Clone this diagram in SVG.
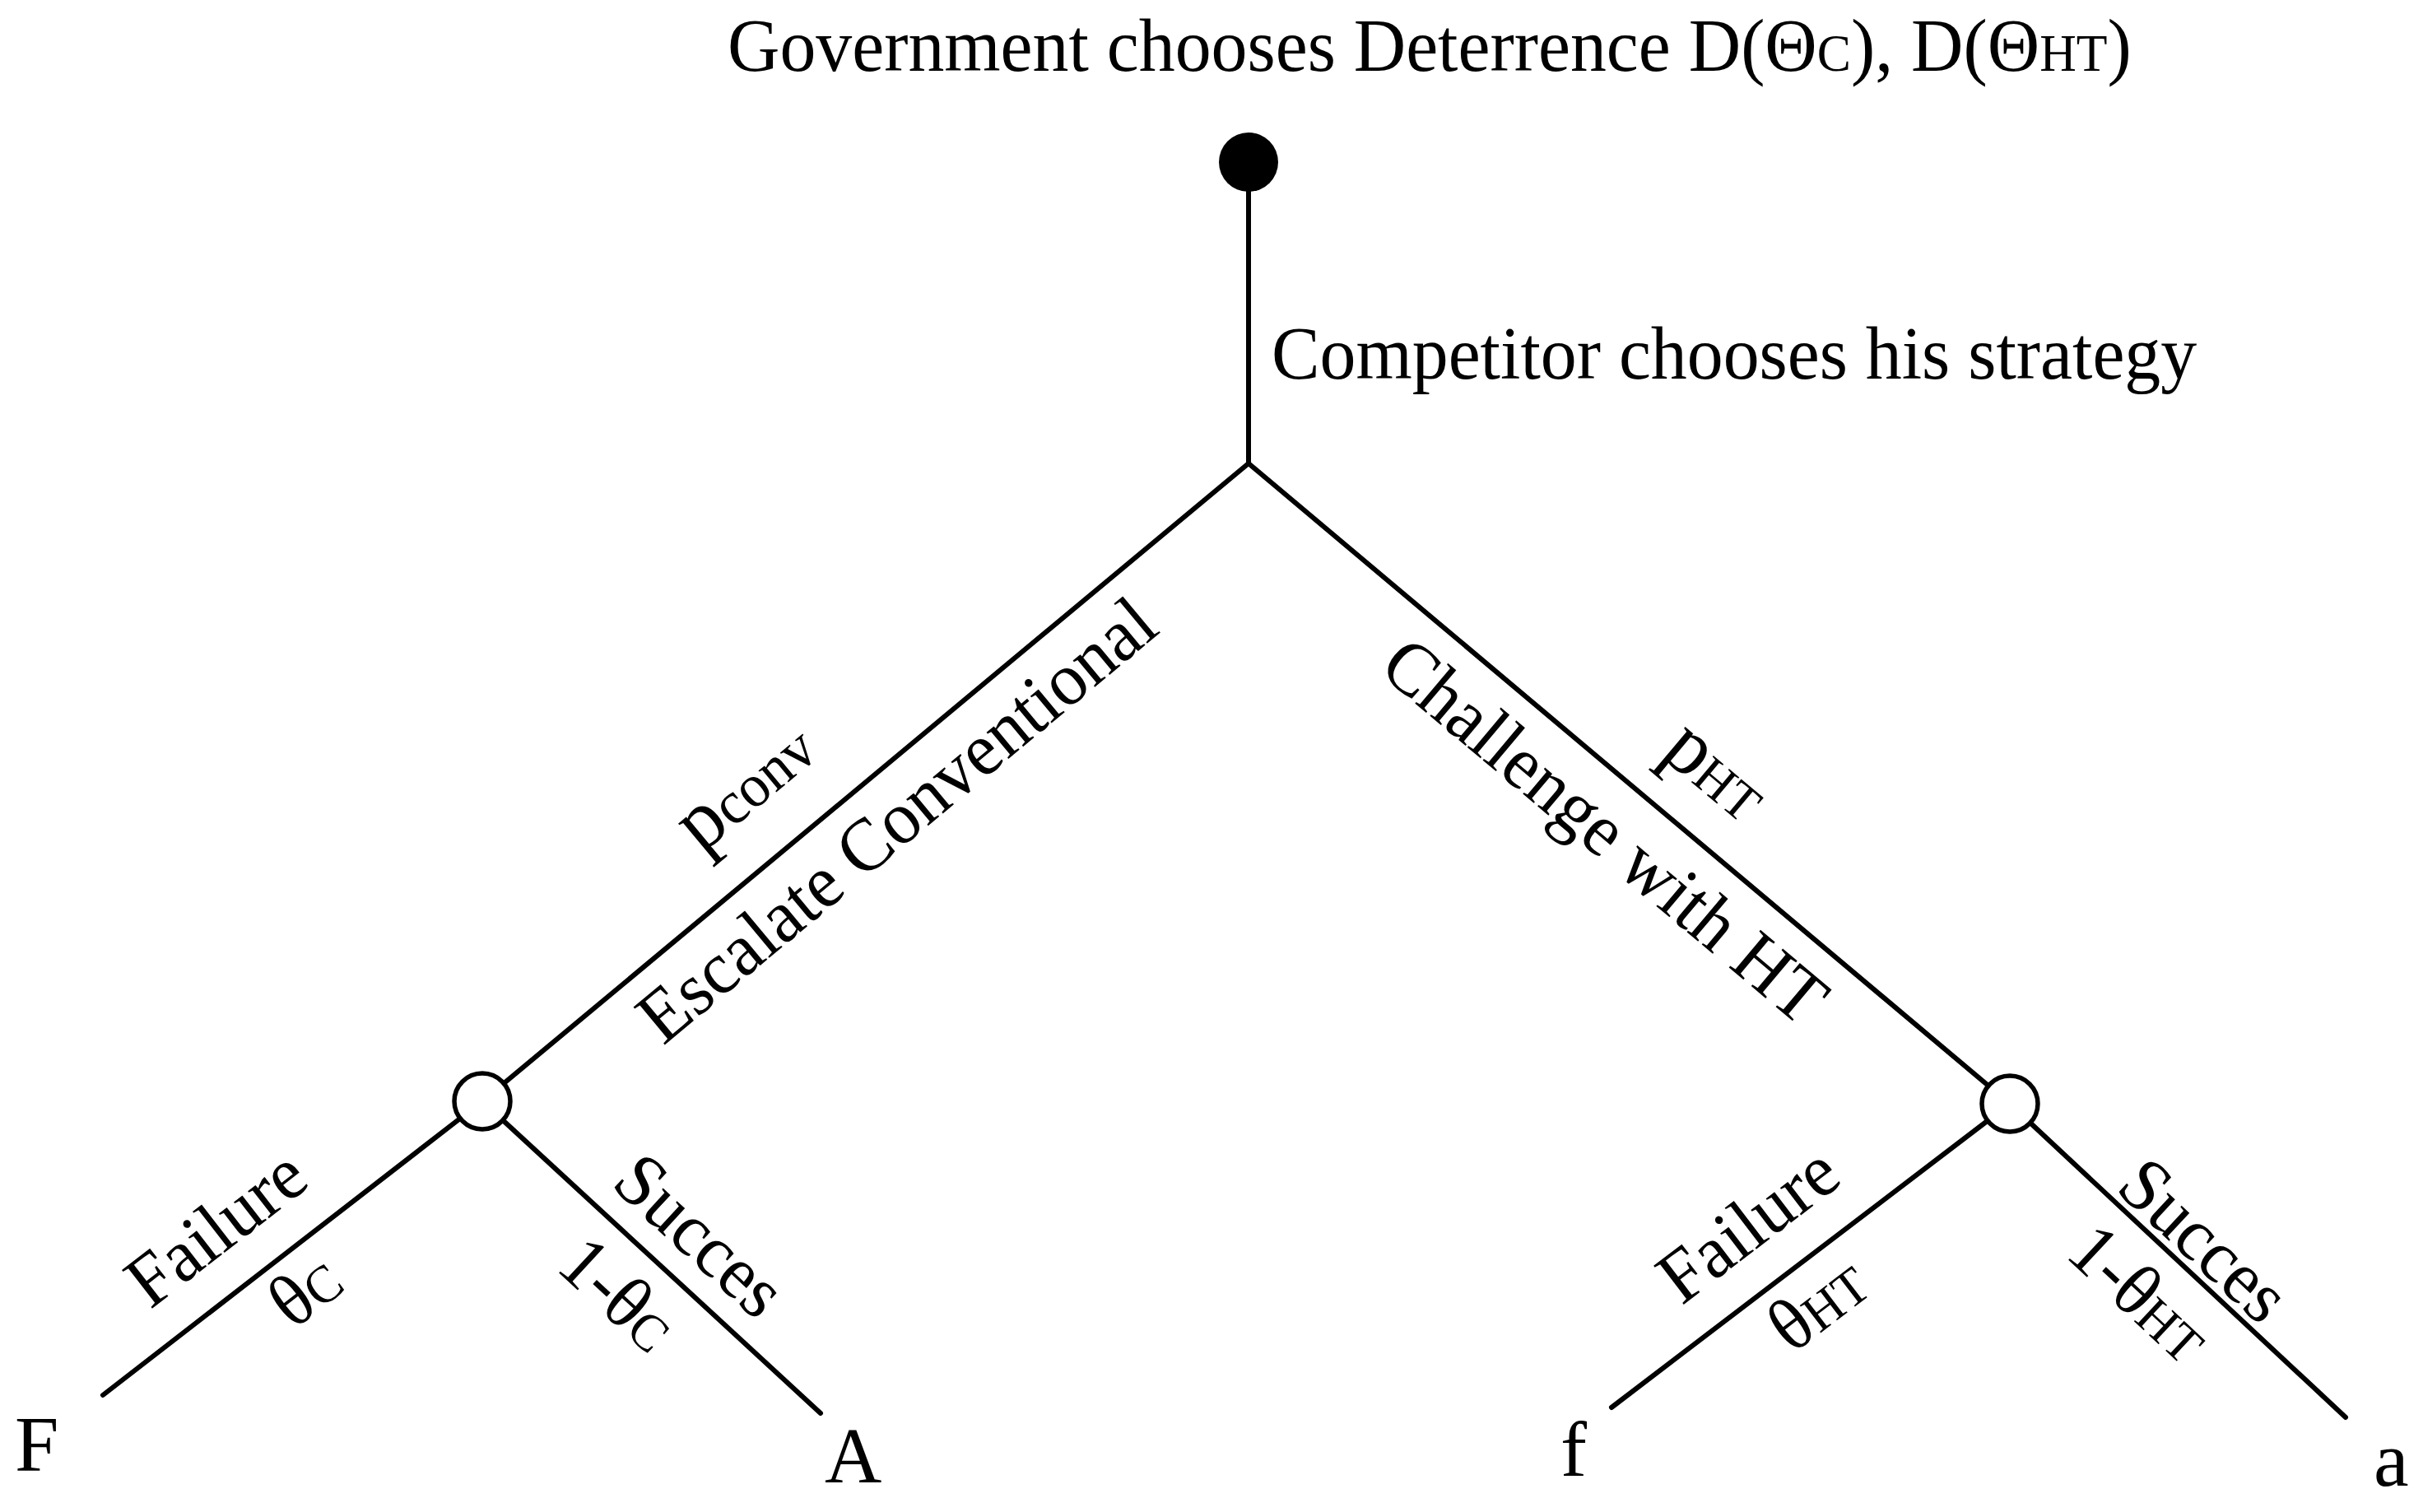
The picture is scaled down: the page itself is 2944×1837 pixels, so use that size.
<svg xmlns="http://www.w3.org/2000/svg" width="2944" height="1837" viewBox="0 0 2944 1837">
<style>
  text { font-family: "Liberation Serif", "Times New Roman", serif; fill: #000; }
  .t { font-size: 91px; }
  .leaf { font-size: 96px; }
  .sc { font-size: 64px; }
  .edge { stroke: #000; stroke-width: 6; stroke-linecap: round; fill: none; }
  .chance { fill: #fff; stroke: #000; stroke-width: 5.5; }
</style>
<rect width="2944" height="1837" fill="#fff"/>

<g id="title">
  <text class="t" transform="translate(884,86) scale(0.965,1)" x="0" y="0">Government chooses Deterrence D(Θ<tspan class="sc">C</tspan>), D(Θ<tspan class="sc">HT</tspan>)</text>
</g>

<g id="connectors">
  <line class="edge" x1="1517" y1="197" x2="1517" y2="563"/>
  <line class="edge" x1="1517" y1="563" x2="586" y2="1338"/>
  <line class="edge" x1="1517" y1="563" x2="2442" y2="1341"/>
  <line class="edge" x1="586" y1="1338" x2="125" y2="1695"/>
  <line class="edge" x1="586" y1="1338" x2="997" y2="1717"/>
  <line class="edge" x1="2442" y1="1341" x2="1958" y2="1710"/>
  <line class="edge" x1="2442" y1="1341" x2="2850" y2="1722"/>
</g>

<g id="root">
  <circle cx="1517" cy="197" r="36" fill="#000"/>
</g>
<g id="competitor-label">
  <text class="t" transform="translate(1545,460) scale(0.965,1)" x="0" y="0">Competitor chooses his strategy</text>
</g>

<g id="chance-conv">
  <circle class="chance" cx="586" cy="1338" r="34"/>
</g>
<g id="chance-ht">
  <circle class="chance" cx="2442" cy="1341" r="34"/>
</g>

<g id="leaf-F"><text class="leaf" x="18" y="1787">F</text></g>
<g id="leaf-A"><text class="leaf" x="1002" y="1801">A</text></g>
<g id="leaf-f"><text class="leaf" x="1896" y="1793">f</text></g>
<g id="leaf-a"><text class="leaf" x="2884" y="1805">a</text></g>

<g id="edge-labels" text-anchor="middle">
  <text class="t" transform="translate(963,1024) rotate(-39.74) scale(0.965,1)" x="0" y="-60"><tspan font-size="102">p</tspan><tspan font-size="74">conv</tspan></text>
  <text class="t" transform="translate(1051,950) rotate(-39.74) scale(0.965,1)" x="0" y="90">Escalate Conventional</text>
  <text class="t" transform="translate(1990,962) rotate(40.07) scale(0.965,1)" x="0" y="92">Challenge with HT</text>
  <text class="t" transform="translate(2034,998) rotate(40.07) scale(0.965,1)" x="0" y="-50"><tspan font-size="102">p</tspan><tspan font-size="64">HT</tspan></text>

  <text class="t" transform="translate(309,1552) rotate(-37.75) scale(0.965,1)" x="0" y="-46">Failure</text>
  <text class="t" transform="translate(340,1528) rotate(-37.75) scale(0.965,1)" x="0" y="80">θ<tspan class="sc">C</tspan></text>
  <text class="t" transform="translate(810,1545) rotate(42.68) scale(0.965,1)" x="0" y="-30">Succes</text>
  <text class="t" transform="translate(792,1528) rotate(42.68) scale(0.965,1)" x="0" y="90">1-θ<tspan class="sc">C</tspan></text>

  <text class="t" transform="translate(2170,1548) rotate(-37.32) scale(0.965,1)" x="0" y="-46">Failure</text>
  <text class="t" transform="translate(2177,1543) rotate(-37.32) scale(0.965,1)" x="0" y="82">θ<tspan class="sc">HT</tspan></text>
  <text class="t" transform="translate(2651,1536) rotate(43.04) scale(0.965,1)" x="0" y="-10">Succes</text>
  <text class="t" transform="translate(2641,1527) rotate(43.04) scale(0.965,1)" x="0" y="90">1-θ<tspan class="sc">HT</tspan></text>
</g>
</svg>
